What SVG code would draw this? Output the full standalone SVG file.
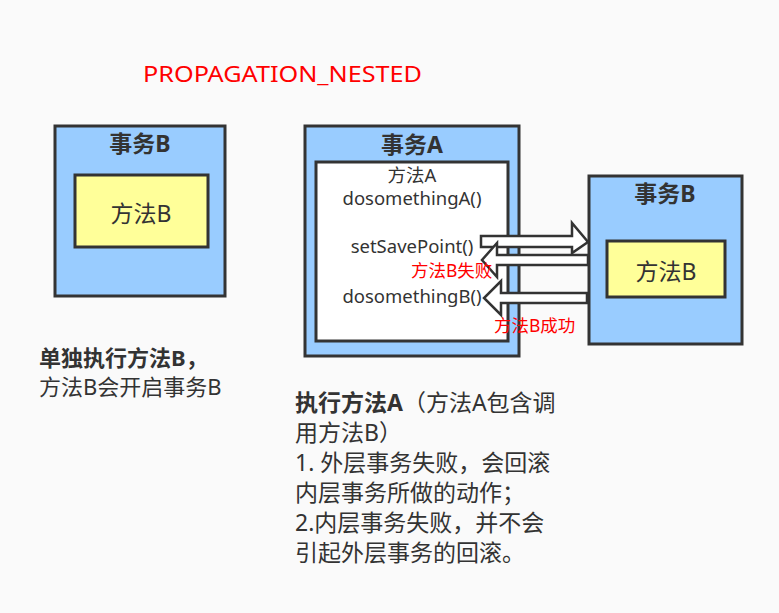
<svg xmlns="http://www.w3.org/2000/svg" width="779" height="613" viewBox="0 0 779 613">
<style>
text{font-family:"Noto Sans","Noto Sans CJK SC",sans-serif;fill:#333}
.t{font-size:23px;font-weight:bold;text-anchor:middle}
.m{font-size:23px;text-anchor:middle}
.c{font-size:18.5px;text-anchor:middle}
.red{fill:#ff0000;font-size:17.5px}
.d{font-size:23px}
.dl{font-size:22px}
.outer{fill:#99ccff;stroke:#333;stroke-width:3}
.yel{fill:#ffff99;stroke:#333;stroke-width:3}
.white{fill:#fff;stroke:#333;stroke-width:3}
.arr{fill:#fff;stroke:#333;stroke-width:2.5;stroke-linejoin:miter}
</style>
<rect width="779" height="613" fill="#fafafa"/>
<text x="143" y="82" style="font-family:'Noto Sans',sans-serif;font-size:21px;fill:#ff0000" textLength="279" lengthAdjust="spacingAndGlyphs">PROPAGATION_NESTED</text>

<g id="txB-left">
<rect class="outer" x="55" y="126" width="170" height="170"/>
<text class="t" x="140" y="152">事务B</text>
<rect class="yel" x="75" y="175" width="133" height="72"/>
<text class="m" x="141" y="222">方法B</text>
</g>

<g id="txA">
<rect class="outer" x="305" y="126" width="214" height="230"/>
<text class="t" x="412" y="153">事务A</text>
<rect class="white" x="316" y="162" width="192" height="179"/>
<text class="c" x="412" y="182">方法A</text>
<text class="c" x="412" y="205">dosomethingA()</text>
<text class="c" x="412" y="253">setSavePoint()</text>
<text class="c" x="412" y="303">dosomethingB()</text>
</g>

<g id="txB-right">
<rect class="outer" x="589" y="176" width="153" height="168"/>
<text class="t" x="665" y="202">事务B</text>
<rect class="yel" x="607" y="241" width="118" height="56"/>
<text class="m" x="666" y="280">方法B</text>
</g>

<g id="connectors">
<polygon class="arr" points="481,236 572,236 572,223 588,242 572,253 572,247 481,247"/>
<polygon class="arr" points="588,255 497,255 497,243 482,260 497,277 497,265 588,265"/>
<polygon class="arr" points="587,293 501,293 501,281 484,298 501,315 501,303 587,303"/>
<text class="red" x="411" y="277">方法B失败</text>
<text class="red" x="494" y="332">方法B成功</text>
</g>

<g id="notes">
<text class="dl" x="39" y="366" font-weight="bold">单独执行方法B，</text>
<text class="dl" x="39" y="395">方法B会开启事务B</text>
<text class="d" x="295" y="411"><tspan font-weight="bold">执行方法A</tspan>（方法A包含调</text>
<text class="d" x="295" y="441">用方法B）</text>
<text class="d" x="295" y="471">1. 外层事务失败，会回滚</text>
<text class="d" x="295" y="501">内层事务所做的动作；</text>
<text class="d" x="295" y="531">2.内层事务失败，并不会</text>
<text class="d" x="295" y="561">引起外层事务的回滚。</text>
</g>
</svg>
